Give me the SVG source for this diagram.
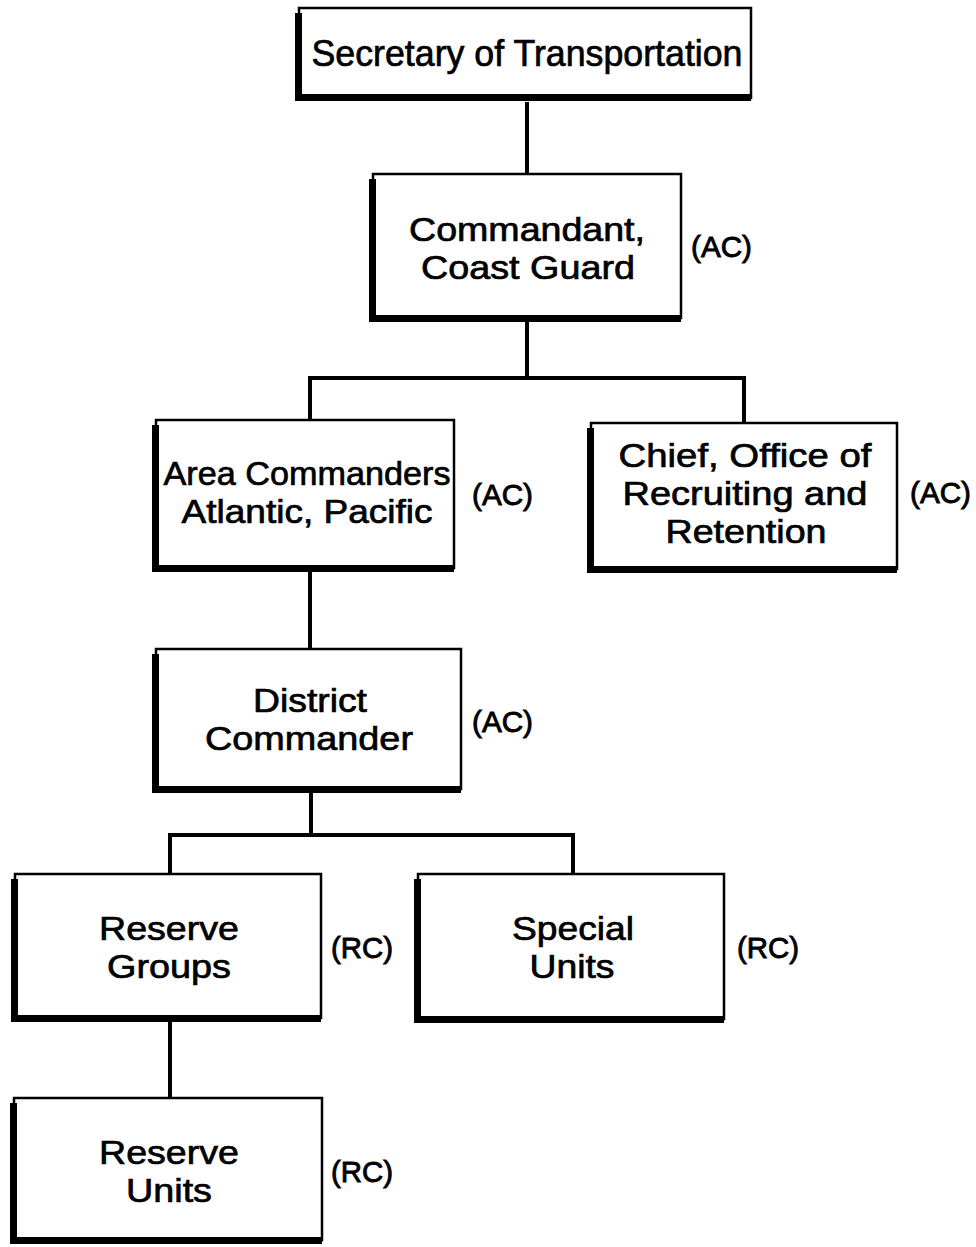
<svg xmlns="http://www.w3.org/2000/svg" width="976" height="1247" viewBox="0 0 976 1247">
  <style>
    .box { fill: #fff; stroke: #000; stroke-width: 2.5; }
    .edge { fill: none; stroke: #000; stroke-width: 7; stroke-linejoin: miter; }
    .link { fill: none; stroke: #000; stroke-width: 4; stroke-linejoin: miter; }
    .t { font-family: "Liberation Sans", Arial, Helvetica, sans-serif; font-size: 34px; fill: #000; stroke: #000; stroke-width: 0.7; text-anchor: middle; }
    .top { font-size: 37px; stroke-width: 0.7; }
    .tag { font-family: "Liberation Sans", Arial, Helvetica, sans-serif; font-size: 30px; fill: #000; stroke: #000; stroke-width: 0.9; text-anchor: start; }
  </style>
  <rect width="976" height="1247" fill="#fff"/>

  <!-- reporting lines -->
  <g id="connectors">
    <path class="link" d="M527,102 V173"/>
    <path class="link" d="M527,322 V378"/>
    <path class="link" d="M310,419 V378 H744 V422"/>
    <path class="link" d="M310,572 V648"/>
    <path class="link" d="M311,793 V835"/>
    <path class="link" d="M170,873 V835 H573 V873"/>
    <path class="link" d="M170,1022 V1097"/>
  </g>

  <!-- each box: thin outline with heavy left and bottom edges -->
  <g id="secretary">
    <rect class="box" x="299" y="8" width="452" height="90"/>
    <path class="edge" d="M298.5,13 V97.5 H751"/>
    <text class="t top" x="527" y="66" textLength="431" lengthAdjust="spacingAndGlyphs">Secretary of Transportation</text>
  </g>

  <g id="commandant">
    <rect class="box" x="373" y="174" width="308" height="144"/>
    <path class="edge" d="M372.5,179 V318.5 H681"/>
    <text class="t" x="527" y="241" textLength="236" lengthAdjust="spacingAndGlyphs">Commandant,</text>
    <text class="t" x="528" y="279" textLength="214" lengthAdjust="spacingAndGlyphs">Coast Guard</text>
    <text class="tag" x="691" y="257" textLength="61" lengthAdjust="spacingAndGlyphs">(AC)</text>
  </g>

  <g id="area-commanders">
    <rect class="box" x="156" y="420" width="298" height="148"/>
    <path class="edge" d="M155.5,425 V568.5 H454"/>
    <text class="t" x="307" y="485" textLength="287" lengthAdjust="spacingAndGlyphs">Area Commanders</text>
    <text class="t" x="307" y="523" textLength="251" lengthAdjust="spacingAndGlyphs">Atlantic, Pacific</text>
    <text class="tag" x="472" y="505" textLength="61" lengthAdjust="spacingAndGlyphs">(AC)</text>
  </g>

  <g id="recruiting">
    <rect class="box" x="591" y="423" width="306" height="146"/>
    <path class="edge" d="M590.5,428 V569.5 H897"/>
    <text class="t" x="745" y="467" textLength="253" lengthAdjust="spacingAndGlyphs">Chief, Office of</text>
    <text class="t" x="745" y="505" textLength="245" lengthAdjust="spacingAndGlyphs">Recruiting and</text>
    <text class="t" x="746" y="543" textLength="161" lengthAdjust="spacingAndGlyphs">Retention</text>
    <text class="tag" x="910" y="503" textLength="61" lengthAdjust="spacingAndGlyphs">(AC)</text>
  </g>

  <g id="district">
    <rect class="box" x="156" y="649" width="305" height="140"/>
    <path class="edge" d="M155.5,654 V789.5 H461"/>
    <text class="t" x="310" y="712" textLength="114" lengthAdjust="spacingAndGlyphs">District</text>
    <text class="t" x="309" y="750" textLength="208" lengthAdjust="spacingAndGlyphs">Commander</text>
    <text class="tag" x="472" y="732" textLength="61" lengthAdjust="spacingAndGlyphs">(AC)</text>
  </g>

  <g id="reserve-groups">
    <rect class="box" x="15" y="874" width="306" height="144"/>
    <path class="edge" d="M14.5,879 V1018.5 H321"/>
    <text class="t" x="169" y="940" textLength="140" lengthAdjust="spacingAndGlyphs">Reserve</text>
    <text class="t" x="169" y="978" textLength="124" lengthAdjust="spacingAndGlyphs">Groups</text>
    <text class="tag" x="331" y="958" textLength="62" lengthAdjust="spacingAndGlyphs">(RC)</text>
  </g>

  <g id="special-units">
    <rect class="box" x="418" y="874" width="306" height="145"/>
    <path class="edge" d="M417.5,879 V1019.5 H724"/>
    <text class="t" x="573" y="940" textLength="122" lengthAdjust="spacingAndGlyphs">Special</text>
    <text class="t" x="572" y="978" textLength="85" lengthAdjust="spacingAndGlyphs">Units</text>
    <text class="tag" x="737" y="958" textLength="62" lengthAdjust="spacingAndGlyphs">(RC)</text>
  </g>

  <g id="reserve-units">
    <rect class="box" x="14" y="1098" width="308" height="142"/>
    <path class="edge" d="M13.5,1103 V1240.5 H322"/>
    <text class="t" x="169" y="1164" textLength="140" lengthAdjust="spacingAndGlyphs">Reserve</text>
    <text class="t" x="169" y="1202" textLength="86" lengthAdjust="spacingAndGlyphs">Units</text>
    <text class="tag" x="331" y="1182" textLength="62" lengthAdjust="spacingAndGlyphs">(RC)</text>
  </g>
</svg>
